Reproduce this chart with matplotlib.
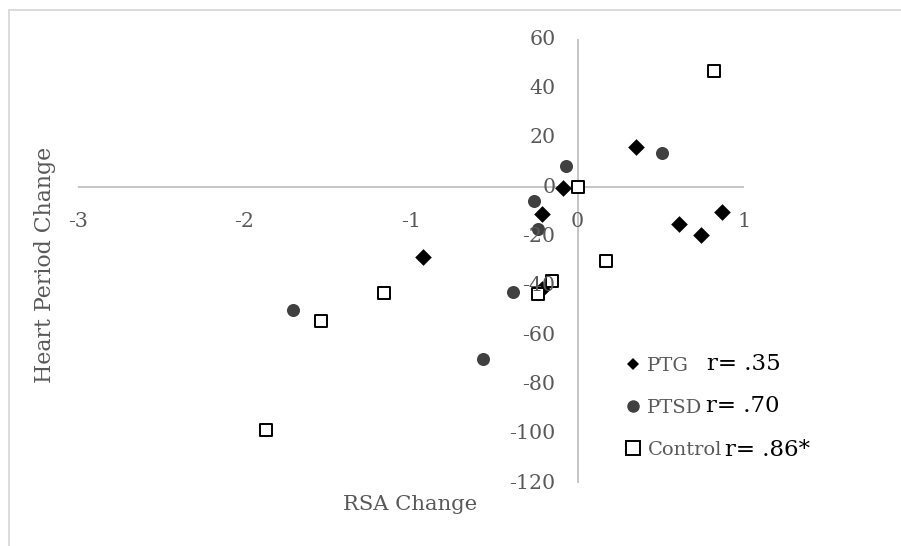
import matplotlib
matplotlib.use("Agg")
import matplotlib.pyplot as plt
from matplotlib.lines import Line2D
import matplotlib.transforms as mtransforms

# ---- data ----
ptg_x = [0.35, -0.09, -0.215, 0.61, 0.74, 0.87, -0.215, -0.93]
ptg_y = [16.5, -0.4, -11.0, -14.9, -19.3, -9.9, -41.4, -28.4]
ptsd_x = [0.51, -0.07, -0.26, -0.24, -0.385, -0.57, -1.71]
ptsd_y = [14.0, 8.8, -5.4, -16.9, -42.3, -69.5, -49.7]
ctrl_x = [0.82, 0.0, 0.17, -0.153, -0.24, -1.16, -1.54, -1.87]
ctrl_y = [47.3, 0.0, -29.9, -37.9, -43.4, -42.7, -54.1, -98.4]
series_names = ["PTG", "PTSD", "Control"]
r_labels = ["r= .35", "r= .70", "r= .86*"]
x_ticks = [-3, -2, -1, 0, 1]
y_ticks = [-120, -100, -80, -60, -40, -20, 0, 20, 40, 60]

plt.rcParams['font.family'] = ['DejaVu Serif']
GRAY = '#595959'
AXC = '#c0c0c0'

W, H = 901, 546
fig = plt.figure(figsize=(W / 100, H / 100), dpi=100)
ax = fig.add_axes([78 / W, 1 - 483.3 / H, (744 - 78) / W, (483.3 - 39.3) / H])
ax.set_xlim(-3, 1)
ax.set_ylim(-120, 60)
ax.patch.set_alpha(0)
for s in ax.spines.values():
    s.set_visible(False)

# axis lines under markers
ax.plot([-3, 1], [0, 0], color=AXC, lw=1.3, zorder=0.5, solid_capstyle='butt')
ax.plot([0, 0], [-120, 60], color=AXC, lw=1.3, zorder=0.5, solid_capstyle='butt')

ax.scatter(ptg_x, ptg_y, marker='D', s=72, color='black', zorder=2, linewidths=0)
ax.scatter(ptsd_x, ptsd_y, marker='o', s=88, color='#404040', zorder=2, linewidths=0)
ax.scatter(ctrl_x, ctrl_y, marker='s', s=80, facecolor='white', edgecolor='black',
           linewidths=1.4, zorder=2)

ax.set_xticks(x_ticks)
ax.set_yticks(y_ticks)
ax.set_xticklabels([str(v) for v in x_ticks])
ax.set_yticklabels([str(v) for v in y_ticks])
ax.tick_params(axis='both', length=0, labelsize=14.8, labelcolor=GRAY, pad=0)
ax.xaxis.set_zorder(3)
ax.yaxis.set_zorder(3)
xoff = mtransforms.ScaledTranslation(0, -25 / 100, fig.dpi_scale_trans)
for lab in ax.get_xticklabels():
    lab.set_transform(ax.transData + xoff)
    lab.set_y(0)
    lab.set_va('top')
yoff = mtransforms.ScaledTranslation(-22 / 100, 0, fig.dpi_scale_trans)
for lab in ax.get_yticklabels():
    lab.set_transform(ax.transData + yoff)
    lab.set_x(0)
    lab.set_ha('right')
    lab.set_va('center')

fig.text(45 / W, 1 - 265 / H, "Heart Period Change", rotation=90, ha='center', va='center',
         fontsize=15.8, color=GRAY)
fig.text(410 / W, 1 - 505 / H, "RSA Change", ha='center', va='center', fontsize=15.2, color=GRAY)

# legend
handles = [
    Line2D([], [], ls='none', marker='D', markersize=6.5, color='black', markeredgewidth=0),
    Line2D([], [], ls='none', marker='o', markersize=9, color='#404040', markeredgewidth=0),
    Line2D([], [], ls='none', marker='s', markersize=9.5, markerfacecolor='white',
           markeredgecolor='black', markeredgewidth=1.4),
]
leg = ax.legend(handles, series_names, loc='upper left',
                bbox_to_anchor=(626 / W, 1 - 357 / H), bbox_transform=fig.transFigure,
                frameon=False, fontsize=14, labelcolor=GRAY, handlelength=0.75,
                handletextpad=0.35, labelspacing=1.24, borderpad=0, borderaxespad=0)

r_pos = [(707, 364), (706, 406), (725, 450)]
for (px, py), t in zip(r_pos, r_labels):
    fig.text(px / W, 1 - py / H, t, ha='left', va='center', fontsize=16.5, color='black')

# outer border (chart area frame)
fig.add_artist(Line2D([8.5 / W, 1], [1 - 9.5 / H, 1 - 9.5 / H], color='#d9d9d9', lw=1.3,
                      transform=fig.transFigure))
fig.add_artist(Line2D([8.5 / W, 8.5 / W], [0, 1 - 9.5 / H], color='#d9d9d9', lw=1.3,
                      transform=fig.transFigure))

fig.savefig("out.png", dpi=100)
